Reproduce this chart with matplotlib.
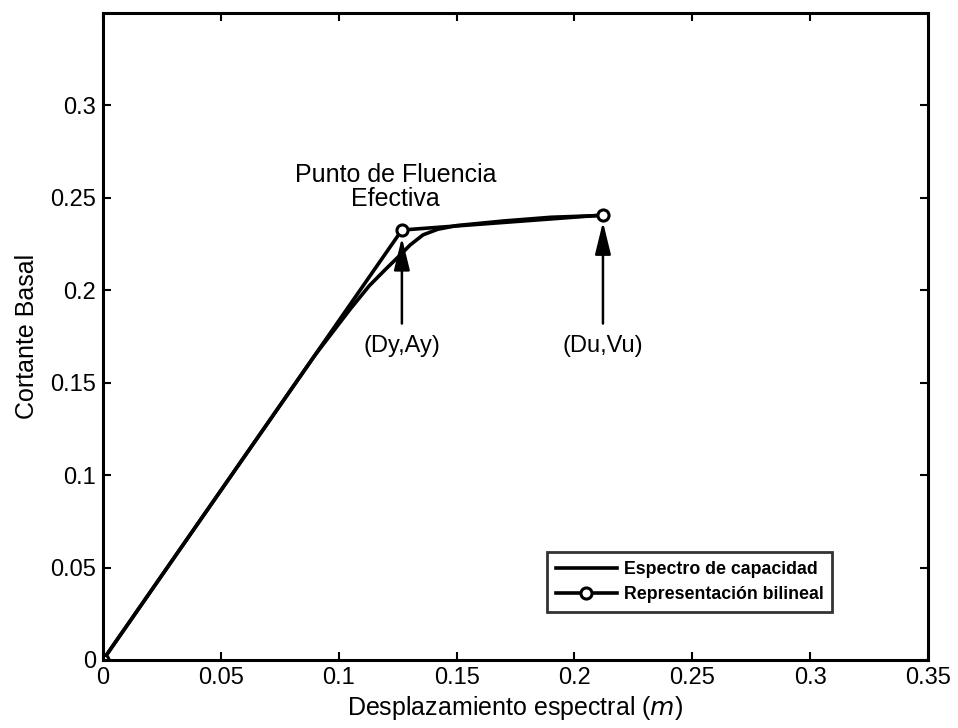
import numpy as np
import matplotlib.pyplot as plt

plt.rcParams['font.family'] = ['Liberation Sans', 'DejaVu Sans']

# Espectro de capacidad
cap_x = [0.0, 0.05, 0.09, 0.105, 0.113, 0.12, 0.126, 0.1303, 0.1358, 0.142, 0.15, 0.17, 0.19, 0.212]
cap_y = [0.0, 0.0917, 0.165, 0.190, 0.2025, 0.2115, 0.2190, 0.2245, 0.2300, 0.2330, 0.2350, 0.2375, 0.2395, 0.2405]

# Representación bilineal
bil_x = [0.0, 0.1268, 0.2121]
bil_y = [0.0, 0.2326, 0.2407]

x_ticks = [0, 0.05, 0.1, 0.15, 0.2, 0.25, 0.3, 0.35]
y_ticks = [0, 0.05, 0.1, 0.15, 0.2, 0.25, 0.3]

fig = plt.figure(figsize=(9.58, 7.28), dpi=100)
ax = fig.add_axes([103 / 958, 1 - 660 / 728, 825 / 958, 647 / 728])

ax.plot(cap_x, cap_y, color='black', lw=2.6, label='Espectro de capacidad')
ax.plot(bil_x, bil_y, color='black', lw=2.6, marker='o', ms=8,
        mfc='white', mew=2.2, label='Representación bilineal')

# flechas y anotaciones
flecha = dict(arrowstyle='-|>,head_width=0.22,head_length=0.9', color='black',
              lw=1.8, mutation_scale=22, shrinkA=0, shrinkB=0)
ax.annotate('', xy=(bil_x[1], 0.2285), xytext=(bil_x[1], 0.182), arrowprops=flecha)
ax.annotate('', xy=(bil_x[2], 0.2370), xytext=(bil_x[2], 0.182), arrowprops=flecha)
ax.text(bil_x[1], 0.170, '(Dy,Ay)', ha='center', va='center', fontsize=17)
ax.text(bil_x[2], 0.170, '(Du,Vu)', ha='center', va='center', fontsize=17)
ax.text(0.124, 0.256, 'Punto de Fluencia\nEfectiva', ha='center', va='center',
        fontsize=18, linespacing=1.0)

ax.set_xlim(0, 0.35)
ax.set_ylim(0, 0.35)
ax.set_xticks(x_ticks)
ax.set_xticklabels(['0', '0.05', '0.1', '0.15', '0.2', '0.25', '0.3', '0.35'])
ax.set_yticks(y_ticks)
ax.set_yticklabels(['0', '0.05', '0.1', '0.15', '0.2', '0.25', '0.3'])
ax.tick_params(direction='in', top=True, right=True, length=6, width=1.5,
               labelsize=17, pad=5)
for s in ax.spines.values():
    s.set_linewidth(2.2)

ax.set_xlabel('Desplazamiento espectral ($m$)', fontsize=18, labelpad=4)
ax.set_ylabel('Cortante Basal', fontsize=18, labelpad=8)

leg = ax.legend(loc='lower right', bbox_to_anchor=(0.884, 0.074),
                borderaxespad=0, fancybox=False,
                edgecolor='black', handlelength=3.4, handletextpad=0.4,
                labelspacing=0.45, borderpad=0.5, prop={'weight': 'bold', 'size': 12.8})
leg.get_frame().set_linewidth(2)

fig.savefig('out.png', dpi=100)
